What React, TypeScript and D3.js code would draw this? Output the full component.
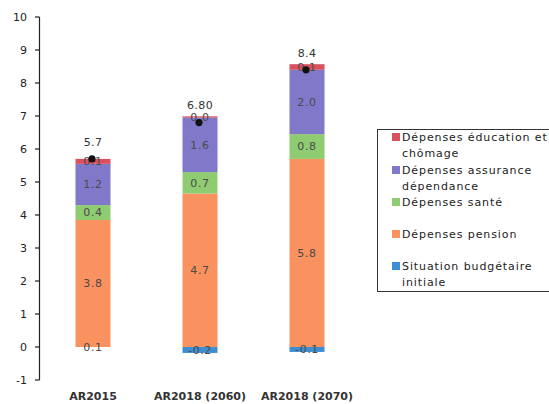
import React from "react";
import * as d3 from "d3";

const categories = ["AR2015", "AR2018 (2060)", "AR2018 (2070)"];
const initiale = [0.0, -0.18, -0.15];
const pension = [3.85, 4.65, 5.7];
const sante = [0.45, 0.65, 0.75];
const dependance = [1.25, 1.65, 1.95];
const education = [0.15, 0.04, 0.17];
const totals = [5.7, 6.8, 8.4];

const initialeLabels = ["0.1", "-0.2", "-0.1"];
const pensionLabels = ["3.8", "4.7", "5.8"];
const santeLabels = ["0.4", "0.7", "0.8"];
const dependanceLabels = ["1.2", "1.6", "2.0"];
const educationLabels = ["0.1", "0.0", "0.1"];
const totalLabels = ["5.7", "6.80", "8.4"];

const yTicks = [-1, 0, 1, 2, 3, 4, 5, 6, 7, 8, 9, 10];

const seriesKeys = ["initiale", "pension", "sante", "dependance", "education"];
const seriesColors: Record<string, string> = {
  initiale: "#3d8fd2",
  pension: "#f9925f",
  sante: "#8fcb70",
  dependance: "#8079c9",
  education: "#d9505e",
};
const seriesLabels: Record<string, string[]> = {
  initiale: initialeLabels,
  pension: pensionLabels,
  sante: santeLabels,
  dependance: dependanceLabels,
  education: educationLabels,
};

const legendItems = [
  { key: "education", lines: ["Dépenses éducation et", "chômage"] },
  { key: "dependance", lines: ["Dépenses assurance", "dépendance"] },
  { key: "sante", lines: ["Dépenses santé"] },
  { key: "pension", lines: ["Dépenses pension"] },
  { key: "initiale", lines: ["Situation budgétaire", "initiale"] },
];
const legendRowY = [137, 170, 202, 234, 266];

export default function App() {
  const width = 549;
  const height = 404;
  const y = d3.scaleLinear().domain([-1, 10]).range([380, 17]);
  const x = d3.scalePoint<string>().domain(categories).range([39.5, 360.5]).padding(0.5);
  const barW = 35;

  const table = categories.map((c, i) => ({
    cat: c,
    initiale: initiale[i],
    pension: pension[i],
    sante: sante[i],
    dependance: dependance[i],
    education: education[i],
  }));
  const stacked = d3
    .stack<any>()
    .keys(seriesKeys)
    .offset(d3.stackOffsetDiverging)(table);

  const font = "'DejaVu Sans', Verdana, sans-serif";

  return (
    <svg
      width={width}
      height={height}
      style={{ position: "absolute", left: 0, top: 0, background: "#fff" }}
      fontFamily={font}
    >
      <rect x={0} y={0} width={width} height={height} fill="#fff" />
      {/* y axis */}
      <line x1={39.5} x2={39.5} y1={y(10)} y2={y(-1)} stroke="#222" strokeWidth={1.2} />
      {yTicks.map((t) => (
        <g key={t}>
          <line x1={35} x2={39.5} y1={y(t)} y2={y(t)} stroke="#222" strokeWidth={1.2} />
          <text x={27} y={y(t)} dy="0.35em" textAnchor="end" fontSize={11} fill="#222">
            {t}
          </text>
        </g>
      ))}
      {/* bars */}
      {stacked.map((s) => (
        <g key={s.key}>
          {s.map((d, i) => {
            const cx = x(categories[i]) as number;
            const y0 = y(Math.max(d[0], d[1]));
            const y1 = y(Math.min(d[0], d[1]));
            return (
              <rect
                key={i}
                x={cx - barW / 2}
                y={y0}
                width={barW}
                height={Math.max(0, y1 - y0)}
                fill={seriesColors[s.key]}
              />
            );
          })}
        </g>
      ))}
      {/* segment labels */}
      {stacked.map((s) => (
        <g key={"l" + s.key}>
          {s.map((d, i) => {
            const cx = x(categories[i]) as number;
            const cy = y((d[0] + d[1]) / 2);
            return (
              <text
                key={i}
                x={cx}
                y={cy}
                dy="0.35em"
                textAnchor="middle"
                fontSize={11}
                letterSpacing={0.6}
                fill="#4a4a4a"
              >
                {seriesLabels[s.key][i]}
              </text>
            );
          })}
        </g>
      ))}
      {/* totals */}
      {totals.map((t, i) => {
        const cx = x(categories[i]) as number;
        return (
          <g key={"t" + i}>
            <circle cx={cx - 1} cy={y(t)} r={3.6} fill="#111" />
            <text
              x={cx}
              y={y(t) - 17}
              dy="0.35em"
              textAnchor="middle"
              fontSize={11}
              letterSpacing={0.4}
              fill="#333"
            >
              {totalLabels[i]}
            </text>
          </g>
        );
      })}
      {/* category labels */}
      {categories.map((c) => (
        <text
          key={c}
          x={x(c) as number}
          y={400}
          textAnchor="middle"
          fontSize={11}
          fontWeight="bold"
          fill="#333"
        >
          {c}
        </text>
      ))}
      {/* legend */}
      <rect x={377.5} y={129.5} width={200} height={162} fill="none" stroke="#333" strokeWidth={1} />
      {legendItems.map((it, k) => (
        <g key={it.key}>
          <rect x={392} y={legendRowY[k] - 4} width={8} height={8} fill={seriesColors[it.key]} />
          {it.lines.map((ln, j) => (
            <text
              key={j}
              x={402}
              y={legendRowY[k] + j * 16}
              dy="0.35em"
              fontSize={11}
              letterSpacing={0.9}
              fill="#222"
            >
              {ln}
            </text>
          ))}
        </g>
      ))}
    </svg>
  );
}
